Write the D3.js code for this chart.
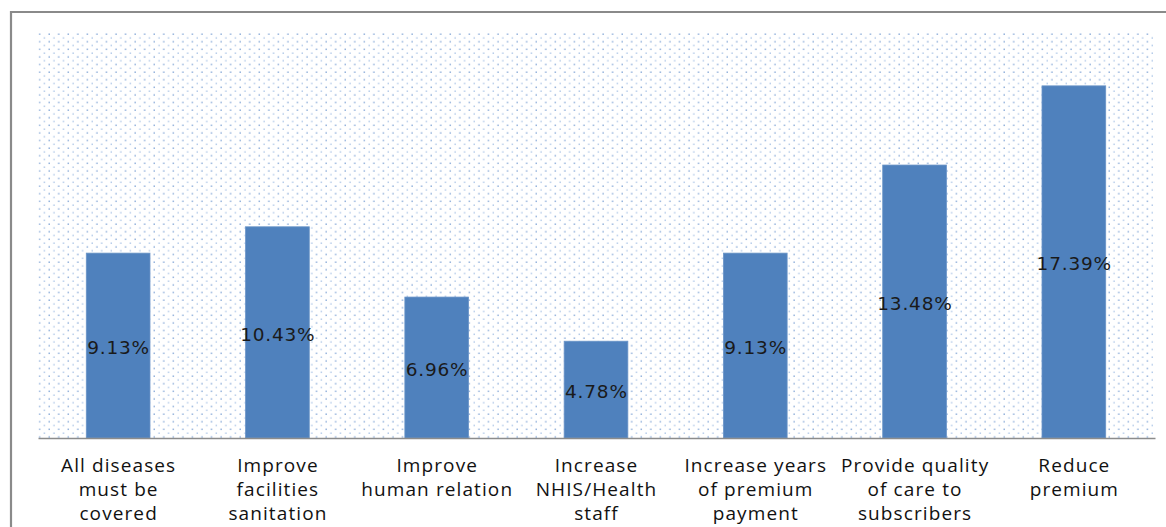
<!DOCTYPE html>
<html>
<head>
<meta charset="utf-8">
<script src="https://cdn.jsdelivr.net/npm/d3@7"></script>
<style>
  html, body { margin: 0; padding: 0; background: #ffffff; }
  svg { display: block; }
</style>
</head>
<body>
<svg id="chart" width="1166" height="527"></svg>
<script>
// Suggestions for improving the scheme, share of respondents (%)
const categories = [
  ["All diseases", "must be", "covered"],
  ["Improve", "facilities", "sanitation"],
  ["Improve", "human relation"],
  ["Increase", "NHIS/Health", "staff"],
  ["Increase years", "of premium", "payment"],
  ["Provide quality", "of care to", "subscribers"],
  ["Reduce", "premium"]
];
const values = [9.13, 10.43, 6.96, 4.78, 9.13, 13.48, 17.39];
const valueLabels = ["9.13%", "10.43%", "6.96%", "4.78%", "9.13%", "13.48%", "17.39%"];
const yDomain = [0, 20];

const svg = d3.select("#chart");
const W = 1166, H = 527;
const plot = { left: 38.5, right: 1153.5, top: 33, bottom: 438 };

// Outer frame (only left and top edges visible)
svg.append("path")
  .attr("d", `M11,${H} L11,12 L${W},12`)
  .attr("fill", "none")
  .attr("stroke", "#8a8a8a")
  .attr("stroke-width", 2.2);

// Dotted plot-area fill
const defs = svg.append("defs");
const pat = defs.append("pattern")
  .attr("id", "dots")
  .attr("patternUnits", "userSpaceOnUse")
  .attr("x", plot.left).attr("y", plot.top)
  .attr("width", 9.55).attr("height", 7.6);
pat.append("rect").attr("x", 0.5).attr("y", 0.5).attr("width", 1.3).attr("height", 1.3).attr("fill", "#6f98d0");
pat.append("rect").attr("x", 5.3).attr("y", 4.3).attr("width", 1.3).attr("height", 1.3).attr("fill", "#9dbbe2");

svg.append("rect")
  .attr("x", plot.left).attr("y", plot.top)
  .attr("width", plot.right - plot.left)
  .attr("height", plot.bottom - plot.top)
  .attr("fill", "url(#dots)");

const x = d3.scaleBand()
  .domain(d3.range(categories.length))
  .range([plot.left, plot.right])
  .paddingInner(0.6)
  .paddingOuter(0.3);

const y = d3.scaleLinear().domain(yDomain).range([plot.bottom, plot.top]);

// Bars
svg.append("g").selectAll("rect")
  .data(values)
  .join("rect")
  .attr("x", (d, i) => x(i))
  .attr("y", d => y(d))
  .attr("width", x.bandwidth())
  .attr("height", d => y(0) - y(d))
  .attr("fill", "#4f81bd")
  .attr("stroke", "#6b95c8")
  .attr("stroke-width", 0.8);

// Baseline
svg.append("line")
  .attr("x1", plot.left).attr("x2", plot.right + 2)
  .attr("y1", plot.bottom + 0.5).attr("y2", plot.bottom + 0.5)
  .attr("stroke", "#8c8c8c")
  .attr("stroke-width", 1.5);

// Value labels at the middle of each bar
svg.append("g").selectAll("text")
  .data(values)
  .join("text")
  .attr("x", (d, i) => x(i) + x.bandwidth() / 2 + 0.4)
  .attr("y", d => (y(d) + y(0)) / 2 + 8.5)
  .attr("text-anchor", "middle")
  .attr("font-family", "DejaVu Sans, Verdana, sans-serif")
  .attr("font-size", 18.5)
  .attr("letter-spacing", 0.8)
  .attr("fill", "#1a1a1a")
  .text((d, i) => valueLabels[i]);

// Category labels
const cat = svg.append("g").selectAll("text")
  .data(categories)
  .join("text")
  .attr("y", 472)
  .attr("text-anchor", "middle")
  .attr("font-family", "Open Sans, sans-serif")
  .attr("font-size", 19)
  .attr("letter-spacing", 1.1)
  .attr("fill", "#111111");
cat.selectAll("tspan")
  .data((d, i) => d.map(t => ({ t, i })))
  .join("tspan")
  .attr("x", d => x(d.i) + x.bandwidth() / 2 + 0.5)
  .attr("dy", (d, j) => j === 0 ? 0 : 24)
  .text(d => d.t);
</script>
</body>
</html>
